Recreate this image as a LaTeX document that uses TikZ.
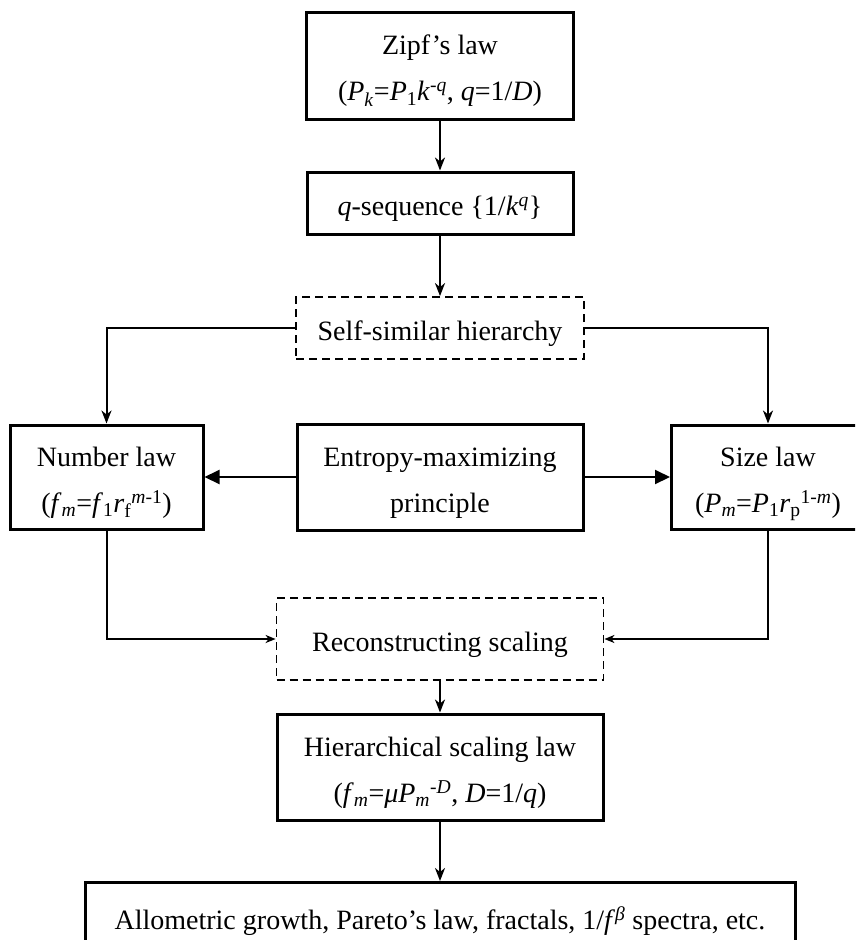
\documentclass[tikz,border=0pt]{standalone}
\usepackage{fontspec}
\setmainfont{Liberation Serif}
\usetikzlibrary{arrows.meta}
\newcommand{\bt}[1]{\raisebox{-9.5pt}[0pt][0pt]{\begin{tabular}{@{}c@{}}#1\end{tabular}}}
\tikzset{
  solidbox/.style={draw, line width=3pt, rectangle, inner sep=0pt},
  dashbox/.style={draw, line width=1.8pt, dash pattern=on 8pt off 5pt, rectangle, inner sep=0pt},
  conn/.style={line width=2pt, -{Stealth[length=13pt,width=10pt,inset=4pt]}},
  smallconn/.style={line width=2pt, -{Stealth[length=10pt,width=8pt,inset=3pt]}},
  triconn/.style={line width=2pt, -{Triangle[length=15pt,width=14pt]}},
}
\begin{document}
\begin{tikzpicture}[x=1pt,y=-1pt,font=\fontsize{28}{46}\selectfont]
\clip (0,0) rectangle (855,940);
\fill[white] (0,0) rectangle (855,940);

\node[solidbox, minimum width=267pt, minimum height=107pt] (zipf) at (440,65.5)
  {\bt{Zipf’s law\\(\textit{P}\textsubscript{\textit{k}}=\textit{P}\textsubscript{1}\textit{k}\textsuperscript{-\textit{q}}, \textit{q}=1/\textit{D})}};
\node[solidbox, minimum width=266pt, minimum height=62pt] (qseq) at (440,203)
  {\bt{\textit{q}-sequence \{1/\textit{k}\textsuperscript{\textit{q}}\}}};
\node[dashbox, minimum width=288pt, minimum height=62pt] (ss) at (440,328)
  {\bt{Self-similar hierarchy}};
\node[solidbox, minimum width=193pt, minimum height=104pt] (nl) at (106.5,477)
  {\bt{Number law\\(\textit{f}\textsubscript{\textit{m}}=\textit{f}\textsubscript{1}\textit{r}\textsubscript{f}\textsuperscript{\textit{m}-1})}};
\node[solidbox, minimum width=286pt, minimum height=106pt] (ent) at (440,477)
  {\bt{Entropy-maximizing\\principle}};
\node[solidbox, minimum width=193pt, minimum height=104pt] (sl) at (768,477)
  {\bt{Size law\\(\textit{P}\textsubscript{\textit{m}}=\textit{P}\textsubscript{1}\textit{r}\textsubscript{p}\textsuperscript{1-\textit{m}})}};
\node[dashbox, minimum width=327pt, minimum height=82pt] (rec) at (440,639)
  {\bt{Reconstructing scaling}};
\node[solidbox, minimum width=326pt, minimum height=106pt] (hier) at (440,767)
  {\bt{Hierarchical scaling law\\(\textit{f}\textsubscript{\textit{m}}=\textit{μP}\textsubscript{\textit{m}}\textsuperscript{-\textit{D}}, \textit{D}=1/\textit{q})}};
\node[solidbox, minimum width=710pt, minimum height=70pt, anchor=north] (bot) at (440,881)
  {\bt{Allometric growth, Pareto’s law, fractals, 1/\textit{f}\textsuperscript{\textit{β}} spectra, etc.}};

\draw[conn] (zipf.south) -- (qseq.north);
\draw[conn] (qseq.south) -- (ss.north);
\draw[conn] (ss.west) -| (nl.north);
\draw[conn] (ss.east) -| (sl.north);
\draw[triconn] (ent.west) -- (nl.east);
\draw[triconn] (ent.east) -- (sl.west);
\draw[smallconn] (nl.south) |- (rec.west);
\draw[smallconn] (sl.south) |- (rec.east);
\draw[conn] (rec.south) -- (hier.north);
\draw[conn] (hier.south) -- (bot.north);
\end{tikzpicture}
\end{document}
